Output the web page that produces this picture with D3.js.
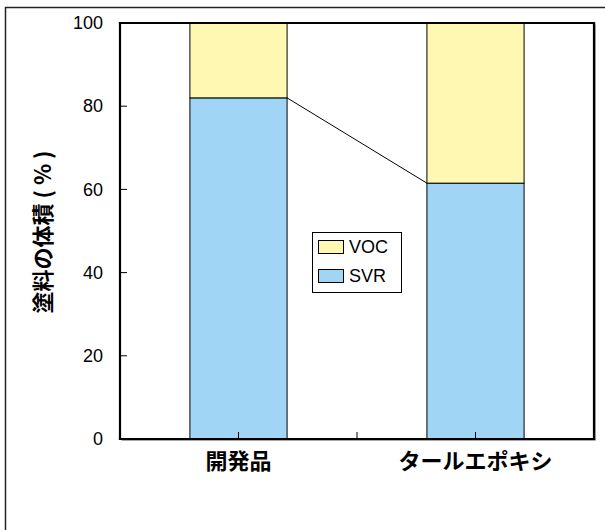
<!DOCTYPE html>
<html>
<head>
<meta charset="utf-8">
<script src="https://cdn.jsdelivr.net/npm/d3@7"></script>
<style>
  html, body { margin: 0; padding: 0; background: #fff; overflow: hidden; }
  svg { display: block; }
</style>
</head>
<body>
<svg id="chart" width="605" height="530"></svg>
<script>
// Paint volume breakdown: solids (SVR) and volatile organics (VOC)
const categories = ["開発品", "タールエポキシ"];
const svrValues = [82, 61.5];
const vocValues = [18, 38.5];
const yTicks = [0, 20, 40, 60, 80, 100];
const seriesNames = ["VOC", "SVR"];
const seriesColors = { SVR: "#a0d5f5", VOC: "#fff8b2" };

const svg = d3.select("#chart");
const margin = { left: 120, top: 23, right: 11, bottom: 91 };
const W = 605, H = 530;
const x0 = margin.left, x1 = W - margin.right;
const y0 = H - margin.bottom, y1 = margin.top;

const latin = "'Liberation Sans', Arial, sans-serif";
const cjk = "'Noto Sans CJK JP', 'Noto Sans', sans-serif";

// outer frame
svg.append("rect")
  .attr("x", 5.5).attr("y", 7.5)
  .attr("width", 700).attr("height", 600)
  .attr("fill", "none").attr("stroke", "#222").attr("stroke-width", 1.5);

const x = d3.scaleBand().domain(categories).range([x0, x1]).padding(0);
const y = d3.scaleLinear().domain([0, 100]).range([y0, y1]);
const barW = x.bandwidth() * 0.41;

const rows = categories.map((c, i) => ({ cat: c, SVR: svrValues[i], VOC: vocValues[i] }));
const stacked = d3.stack().keys(["SVR", "VOC"])(rows);

const g = svg.append("g");
stacked.forEach(layer => {
  g.selectAll(null).data(layer).enter().append("rect")
    .attr("x", d => x(d.data.cat) + x.bandwidth() / 2 - barW / 2)
    .attr("y", d => y(d[1]))
    .attr("width", barW)
    .attr("height", d => y(d[0]) - y(d[1]))
    .attr("fill", seriesColors[layer.key])
    .attr("stroke", "#000").attr("stroke-width", 1);
});

// series line joining the SVR tops
svg.append("line")
  .attr("x1", x(categories[0]) + x.bandwidth() / 2 + barW / 2)
  .attr("y1", y(svrValues[0]))
  .attr("x2", x(categories[1]) + x.bandwidth() / 2 - barW / 2)
  .attr("y2", y(svrValues[1]))
  .attr("stroke", "#000").attr("stroke-width", 1);

// y axis: inward ticks, labels to the left
const yAxis = d3.axisLeft(y).tickValues(yTicks).tickSize(0).tickPadding(17);
const ya = svg.append("g").attr("transform", `translate(${x0},0)`).call(yAxis);
ya.select(".domain").remove();
ya.selectAll("text").attr("font-family", latin).attr("font-size", 18).attr("fill", "#000");
svg.selectAll(null).data(yTicks.filter(t => t > 0 && t < 100)).enter().append("line")
  .attr("x1", x0).attr("x2", x0 + 7)
  .attr("y1", d => y(d)).attr("y2", d => y(d))
  .attr("stroke", "#000").attr("stroke-width", 1);

// x axis: category labels, ticks at centres and band boundary
const xa = svg.append("g").attr("transform", `translate(0,${y0})`)
  .call(d3.axisBottom(x).tickSize(0).tickPadding(14));
xa.select(".domain").remove();
xa.selectAll("text").attr("font-family", cjk).attr("font-weight", "bold")
  .attr("font-size", 22).attr("fill", "#000");
const xTickPos = [x(categories[0]) + x.bandwidth() / 2, x(categories[1]), x(categories[1]) + x.bandwidth() / 2];
svg.selectAll(null).data(xTickPos).enter().append("line")
  .attr("x1", d => d).attr("x2", d => d)
  .attr("y1", y0).attr("y2", y0 - 7)
  .attr("stroke", "#000").attr("stroke-width", 1);

// plot frame: four edges, with a faint grey edge on the outside
const edges = [
  [x0, y1, x1, y1], [x1, y1, x1, y0], [x1, y0, x0, y0], [x0, y0, x0, y1]
];
svg.selectAll(null).data(edges.slice(1, 3)).enter().append("line")
  .attr("x1", d => d[0] + 1.5).attr("y1", d => d[1] + 1.5)
  .attr("x2", d => d[2] + 1.5).attr("y2", d => d[3] + 1.5)
  .attr("stroke", "#aaa").attr("stroke-width", 1);
svg.selectAll(null).data(edges).enter().append("line")
  .attr("x1", d => d[0]).attr("y1", d => d[1])
  .attr("x2", d => d[2]).attr("y2", d => d[3])
  .attr("stroke", "#000").attr("stroke-width", 2.2)
  .attr("stroke-linecap", "square");

// y axis title
svg.append("text")
  .attr("transform", `translate(41,${(y0 + y1) / 2 + 1}) rotate(-90)`)
  .attr("text-anchor", "middle").attr("dominant-baseline", "central")
  .attr("font-family", cjk).attr("font-weight", "bold").attr("font-size", 22)
  .attr("xml:space", "preserve")
  .text("塗料の体積 ( % )");

// legend
const lg = svg.append("g").attr("transform", "translate(312,232)");
lg.append("rect").attr("x", 0.5).attr("y", 0.5).attr("width", 89).attr("height", 60)
  .attr("fill", "#fff").attr("stroke", "#000").attr("stroke-width", 1);
seriesNames.forEach((s, i) => {
  const yy = 8 + i * 29;
  lg.append("rect").attr("x", 6.5).attr("y", yy + 0.5).attr("width", 25).attr("height", 13)
    .attr("fill", seriesColors[s]).attr("stroke", "#000").attr("stroke-width", 1);
  lg.append("text").attr("x", 37).attr("y", yy + 7).attr("dominant-baseline", "central")
    .attr("font-family", latin).attr("font-size", 18).attr("fill", "#000").text(s);
});
</script>
</body>
</html>
